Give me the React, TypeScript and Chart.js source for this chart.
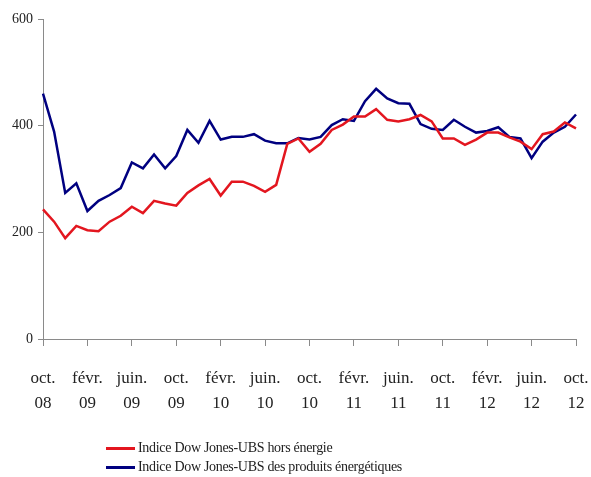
import React, { useEffect, useRef } from "react";
import { Chart, registerables } from "chart.js";

Chart.register(...registerables);

const categories = [
  "oct. 08", "nov. 08", "déc. 08", "janv. 09", "févr. 09", "mars 09", "avr. 09", "mai 09",
  "juin. 09", "juil. 09", "août 09", "sept. 09", "oct. 09", "nov. 09", "déc. 09", "janv. 10",
  "févr. 10", "mars 10", "avr. 10", "mai 10", "juin. 10", "juil. 10", "août 10", "sept. 10",
  "oct. 10", "nov. 10", "déc. 10", "janv. 11", "févr. 11", "mars 11", "avr. 11", "mai 11",
  "juin. 11", "juil. 11", "août 11", "sept. 11", "oct. 11", "nov. 11", "déc. 11", "janv. 12",
  "févr. 12", "mars 12", "avr. 12", "mai 12", "juin. 12", "juil. 12", "août 12", "sept. 12",
  "oct. 12",
];

const horsEnergie = [
  243, 220, 189, 212, 204, 202, 220, 231, 248, 236, 259, 254, 250, 274, 288, 300,
  269, 295, 295, 287, 276, 289, 366, 376, 351, 366, 392, 402, 417, 417, 431, 411,
  408, 412, 420, 408, 376, 376, 364, 374, 387, 387, 378, 370, 356, 384, 389, 406,
  395,
];

const energie = [
  460, 389, 274, 292, 240, 259, 270, 283, 331, 320, 346, 320, 343, 392, 368, 409,
  374, 379, 379, 384, 372, 367, 367, 377, 374, 379, 401, 412, 409, 446, 469, 451,
  442, 441, 403, 394, 392, 411, 398, 387, 390, 397, 379, 376, 339, 370, 387, 398,
  421,
];

const seriesLabels = [
  "Indice Dow Jones-UBS hors énergie",
  "Indice Dow Jones-UBS des produits énergétiques",
];
const seriesColors = ["#E3161F", "#000080"];

const yTicks = [0, 200, 400, 600];
const tickEvery = 4;

const FONT = "'Liberation Serif', 'Times New Roman', serif";
const AXIS = "#8a8a8a";

export default function App() {
  const ref = useRef<HTMLCanvasElement | null>(null);

  useEffect(() => {
    document.body.style.margin = "0";
    const canvas = ref.current;
    if (!canvas) return;
    const chart = new Chart(canvas, {
      type: "line",
      data: {
        labels: categories,
        datasets: [
          {
            label: seriesLabels[0],
            data: horsEnergie,
            borderColor: seriesColors[0],
            backgroundColor: seriesColors[0],
            borderWidth: 2.5,
            pointRadius: 0,
            tension: 0,
          },
          {
            label: seriesLabels[1],
            data: energie,
            borderColor: seriesColors[1],
            backgroundColor: seriesColors[1],
            borderWidth: 2.5,
            pointRadius: 0,
            tension: 0,
          },
        ],
      },
      options: {
        responsive: false,
        animation: false,
        layout: { padding: { top: 19, right: 15, left: 0, bottom: 0 } },
        plugins: {
          legend: { display: false },
          tooltip: { enabled: false },
        },
        scales: {
          x: {
            type: "category",
            offset: false,
            afterFit: (s: any) => {
              s.height = 138;
              s.paddingLeft = 0;
              s.paddingRight = 0;
            },
            border: { display: true, color: AXIS, width: 1 },
            grid: {
              drawOnChartArea: false,
              drawTicks: true,
              tickLength: 7,
              color: AXIS,
              tickColor: (ctx: any) => (ctx.index % tickEvery === 0 ? AXIS : "rgba(0,0,0,0)"),
            },
            ticks: {
              autoSkip: false,
              maxRotation: 0,
              minRotation: 0,
              padding: 20,
              color: "#222",
              font: { family: FONT, size: 17, lineHeight: 1.47 },
              callback: function (this: any, _v: any, index: number) {
                if (index % tickEvery !== 0) return "";
                return categories[index].split(" ");
              },
            },
          },
          y: {
            min: yTicks[0],
            max: yTicks[yTicks.length - 1],
            afterFit: (s: any) => {
              s.width = 43;
              s.paddingTop = 0;
              s.paddingBottom = 0;
            },
            border: { display: true, color: AXIS, width: 1 },
            grid: {
              drawOnChartArea: false,
              drawTicks: true,
              tickLength: 5,
              color: AXIS,
            },
            afterBuildTicks: (s: any) => {
              s.ticks = yTicks.map((v) => ({ value: v }));
            },
            ticks: {
              padding: 5,
              color: "#222",
              font: { family: FONT, size: 14 },
            },
          },
        },
      },
    });
    return () => chart.destroy();
  }, []);

  return (
    <div style={{ position: "relative", width: 591, height: 477, overflow: "hidden", fontFamily: FONT }}>
      <canvas ref={ref} width={591} height={477} style={{ display: "block" }} />
      {seriesLabels.map((label, i) => (
        <div
          key={label}
          style={{
            position: "absolute",
            left: 106,
            top: 448 + i * 19 - 9,
            height: 18,
            display: "flex",
            alignItems: "center",
            whiteSpace: "nowrap",
          }}
        >
          <span
            style={{
              display: "inline-block",
              width: 29,
              height: 3,
              background: seriesColors[i],
              marginRight: 3,
            }}
          />
          <span style={{ fontSize: 14, color: "#222", letterSpacing: "-0.3px" }}>{label}</span>
        </div>
      ))}
    </div>
  );
}
